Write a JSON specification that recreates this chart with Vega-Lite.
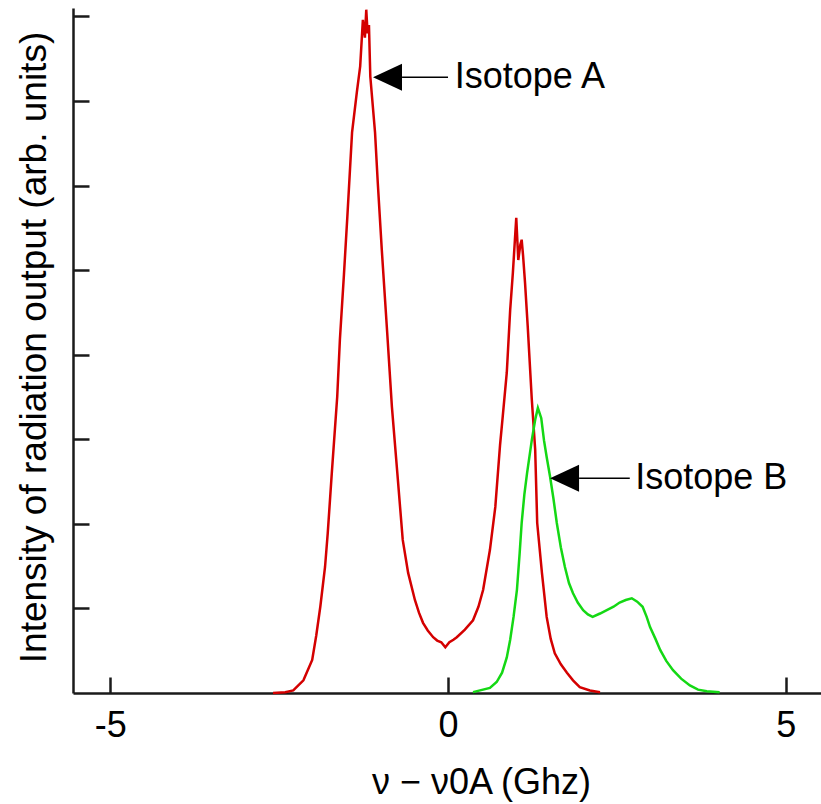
{
  "$schema": "https://vega.github.io/schema/vega-lite/v6.json",
  "width": 748,
  "height": 685,
  "autosize": {"type": "none"},
  "padding": {"top": 8, "left": 73, "right": 0, "bottom": 111},
  "background": "white",
  "config": {
    "view": {"stroke": null},
    "font": "Liberation Sans",
    "axis": {"grid": false, "domainColor": "#1a1a1a", "domainWidth": 2.5, "tickColor": "#1a1a1a", "tickWidth": 2.5, "labelColor": "black", "titleColor": "black", "labelFont": "Liberation Sans", "titleFont": "Liberation Sans", "titleFontWeight": "normal"}
  },
  "datasets": {
    "spectra": [
      {"isotope": "A", "freq": -2.59, "intensity": 0.0},
      {"isotope": "A", "freq": -2.41, "intensity": 0.01},
      {"isotope": "A", "freq": -2.29, "intensity": 0.03},
      {"isotope": "A", "freq": -2.14, "intensity": 0.15},
      {"isotope": "A", "freq": -2.01, "intensity": 0.39},
      {"isotope": "A", "freq": -1.95, "intensity": 0.68},
      {"isotope": "A", "freq": -1.89, "intensity": 1.02},
      {"isotope": "A", "freq": -1.82, "intensity": 1.49},
      {"isotope": "A", "freq": -1.78, "intensity": 1.89},
      {"isotope": "A", "freq": -1.72, "intensity": 2.6},
      {"isotope": "A", "freq": -1.64, "intensity": 3.5},
      {"isotope": "A", "freq": -1.6, "intensity": 4.18},
      {"isotope": "A", "freq": -1.54, "intensity": 4.95},
      {"isotope": "A", "freq": -1.49, "intensity": 5.63},
      {"isotope": "A", "freq": -1.42, "intensity": 6.63},
      {"isotope": "A", "freq": -1.35, "intensity": 7.1},
      {"isotope": "A", "freq": -1.3, "intensity": 7.41},
      {"isotope": "A", "freq": -1.26, "intensity": 7.96},
      {"isotope": "A", "freq": -1.23, "intensity": 7.75},
      {"isotope": "A", "freq": -1.21, "intensity": 8.08},
      {"isotope": "A", "freq": -1.19, "intensity": 7.8},
      {"isotope": "A", "freq": -1.17, "intensity": 7.9},
      {"isotope": "A", "freq": -1.15, "intensity": 7.29},
      {"isotope": "A", "freq": -1.08, "intensity": 6.63},
      {"isotope": "A", "freq": -1.04, "intensity": 6.04},
      {"isotope": "A", "freq": -0.98, "intensity": 5.24},
      {"isotope": "A", "freq": -0.9, "intensity": 4.26},
      {"isotope": "A", "freq": -0.83, "intensity": 3.38},
      {"isotope": "A", "freq": -0.75, "intensity": 2.6},
      {"isotope": "A", "freq": -0.67, "intensity": 1.81},
      {"isotope": "A", "freq": -0.59, "intensity": 1.42},
      {"isotope": "A", "freq": -0.49, "intensity": 1.1},
      {"isotope": "A", "freq": -0.43, "intensity": 0.95},
      {"isotope": "A", "freq": -0.37, "intensity": 0.83},
      {"isotope": "A", "freq": -0.3, "intensity": 0.74},
      {"isotope": "A", "freq": -0.22, "intensity": 0.66},
      {"isotope": "A", "freq": -0.16, "intensity": 0.62},
      {"isotope": "A", "freq": -0.1, "intensity": 0.6},
      {"isotope": "A", "freq": -0.04, "intensity": 0.54},
      {"isotope": "A", "freq": 0.02, "intensity": 0.6},
      {"isotope": "A", "freq": 0.08, "intensity": 0.63},
      {"isotope": "A", "freq": 0.13, "intensity": 0.66},
      {"isotope": "A", "freq": 0.25, "intensity": 0.75},
      {"isotope": "A", "freq": 0.37, "intensity": 0.86},
      {"isotope": "A", "freq": 0.45, "intensity": 1.02},
      {"isotope": "A", "freq": 0.52, "intensity": 1.22},
      {"isotope": "A", "freq": 0.62, "intensity": 1.69},
      {"isotope": "A", "freq": 0.7, "intensity": 2.2},
      {"isotope": "A", "freq": 0.77, "intensity": 2.93},
      {"isotope": "A", "freq": 0.81, "intensity": 3.27},
      {"isotope": "A", "freq": 0.87, "intensity": 3.79},
      {"isotope": "A", "freq": 0.92, "intensity": 4.53},
      {"isotope": "A", "freq": 0.96, "intensity": 4.97},
      {"isotope": "A", "freq": 0.99, "intensity": 5.36},
      {"isotope": "A", "freq": 1.01, "intensity": 5.62},
      {"isotope": "A", "freq": 1.04, "intensity": 5.12},
      {"isotope": "A", "freq": 1.07, "intensity": 5.3},
      {"isotope": "A", "freq": 1.09, "intensity": 5.36},
      {"isotope": "A", "freq": 1.11, "intensity": 5.18},
      {"isotope": "A", "freq": 1.14, "intensity": 4.85},
      {"isotope": "A", "freq": 1.18, "intensity": 4.33},
      {"isotope": "A", "freq": 1.24, "intensity": 3.47},
      {"isotope": "A", "freq": 1.29, "intensity": 2.88},
      {"isotope": "A", "freq": 1.32, "intensity": 2.01},
      {"isotope": "A", "freq": 1.39, "intensity": 1.42},
      {"isotope": "A", "freq": 1.46, "intensity": 0.9},
      {"isotope": "A", "freq": 1.52, "intensity": 0.64},
      {"isotope": "A", "freq": 1.58, "intensity": 0.47},
      {"isotope": "A", "freq": 1.67, "intensity": 0.34},
      {"isotope": "A", "freq": 1.76, "intensity": 0.24},
      {"isotope": "A", "freq": 1.85, "intensity": 0.15},
      {"isotope": "A", "freq": 1.95, "intensity": 0.07},
      {"isotope": "A", "freq": 2.1, "intensity": 0.03},
      {"isotope": "A", "freq": 2.25, "intensity": 0.01},
      {"isotope": "B", "freq": 0.37, "intensity": 0.01},
      {"isotope": "B", "freq": 0.62, "intensity": 0.06},
      {"isotope": "B", "freq": 0.72, "intensity": 0.13},
      {"isotope": "B", "freq": 0.8, "intensity": 0.24},
      {"isotope": "B", "freq": 0.87, "intensity": 0.42},
      {"isotope": "B", "freq": 0.92, "intensity": 0.63},
      {"isotope": "B", "freq": 0.97, "intensity": 0.9},
      {"isotope": "B", "freq": 1.02, "intensity": 1.22},
      {"isotope": "B", "freq": 1.06, "intensity": 1.65},
      {"isotope": "B", "freq": 1.09, "intensity": 2.01},
      {"isotope": "B", "freq": 1.13, "intensity": 2.35},
      {"isotope": "B", "freq": 1.17, "intensity": 2.6},
      {"isotope": "B", "freq": 1.24, "intensity": 2.99},
      {"isotope": "B", "freq": 1.29, "intensity": 3.23},
      {"isotope": "B", "freq": 1.33, "intensity": 3.37},
      {"isotope": "B", "freq": 1.38, "intensity": 3.25},
      {"isotope": "B", "freq": 1.42, "intensity": 2.99},
      {"isotope": "B", "freq": 1.46, "intensity": 2.79},
      {"isotope": "B", "freq": 1.51, "intensity": 2.56},
      {"isotope": "B", "freq": 1.56, "intensity": 2.3},
      {"isotope": "B", "freq": 1.61, "intensity": 2.01},
      {"isotope": "B", "freq": 1.67, "intensity": 1.72},
      {"isotope": "B", "freq": 1.73, "intensity": 1.49},
      {"isotope": "B", "freq": 1.79, "intensity": 1.3},
      {"isotope": "B", "freq": 1.85, "intensity": 1.18},
      {"isotope": "B", "freq": 1.92, "intensity": 1.07},
      {"isotope": "B", "freq": 2.0, "intensity": 0.98},
      {"isotope": "B", "freq": 2.07, "intensity": 0.93},
      {"isotope": "B", "freq": 2.14, "intensity": 0.9},
      {"isotope": "B", "freq": 2.25, "intensity": 0.94},
      {"isotope": "B", "freq": 2.35, "intensity": 0.98},
      {"isotope": "B", "freq": 2.45, "intensity": 1.02},
      {"isotope": "B", "freq": 2.54, "intensity": 1.07},
      {"isotope": "B", "freq": 2.63, "intensity": 1.1},
      {"isotope": "B", "freq": 2.72, "intensity": 1.12},
      {"isotope": "B", "freq": 2.8, "intensity": 1.08},
      {"isotope": "B", "freq": 2.88, "intensity": 1.02},
      {"isotope": "B", "freq": 2.94, "intensity": 0.9},
      {"isotope": "B", "freq": 2.99, "intensity": 0.78},
      {"isotope": "B", "freq": 3.07, "intensity": 0.64},
      {"isotope": "B", "freq": 3.14, "intensity": 0.51},
      {"isotope": "B", "freq": 3.23, "intensity": 0.38},
      {"isotope": "B", "freq": 3.33, "intensity": 0.27},
      {"isotope": "B", "freq": 3.45, "intensity": 0.17},
      {"isotope": "B", "freq": 3.58, "intensity": 0.09},
      {"isotope": "B", "freq": 3.7, "intensity": 0.04},
      {"isotope": "B", "freq": 3.83, "intensity": 0.02},
      {"isotope": "B", "freq": 4.02, "intensity": 0.01}
    ],
    "labels": [
      {"label": "Isotope A", "tip": -1.11, "level": 7.28, "base": -0.68, "lineEnd": 0.0, "textStart": 0.1},
      {"label": "Isotope B", "tip": 1.51, "level": 2.54, "base": 1.94, "lineEnd": 2.69, "textStart": 2.77}
    ]
  },
  "layer": [
    {
      "data": {"name": "spectra"},
      "mark": {"type": "line", "strokeWidth": 2.5, "clip": false},
      "encoding": {
        "x": {
          "field": "freq", "type": "quantitative",
          "scale": {"domain": [-5.55, 5.52], "nice": false, "zero": false},
          "axis": {
            "values": [-5, 0, 5], "tickSize": -16, "labelFontSize": 36, "labelPadding": 31,
            "labelExpr": "'' + datum.value",
            "title": "ν − ν0A (Ghz)", "titleFontSize": 36, "titleX": 408, "titleY": 100,
            "titleBaseline": "alphabetic", "titleAnchor": null
          }
        },
        "y": {
          "field": "intensity", "type": "quantitative",
          "scale": {"domain": [0, 8.1], "nice": false},
          "axis": {
            "values": [1, 2, 3, 4, 5, 6, 7, 8], "tickSize": -16, "labels": false,
            "title": "Intensity of radiation output (arb. units)", "titleFontSize": 37,
            "titleX": -28, "titleY": 339, "titleAngle": -90, "titleBaseline": "alphabetic", "titleAlign": "center"
          }
        },
        "color": {
          "field": "isotope", "type": "nominal",
          "scale": {"domain": ["A", "B"], "range": ["#d40000", "#14d814"]},
          "legend": null
        }
      }
    },
    {
      "data": {"name": "labels"},
      "mark": {"type": "rule", "strokeWidth": 1.5, "color": "black"},
      "encoding": {
        "x": {"field": "base", "type": "quantitative"},
        "x2": {"field": "lineEnd"},
        "y": {"field": "level", "type": "quantitative"}
      }
    },
    {
      "data": {"name": "labels"},
      "mark": {"type": "point", "shape": "M0,0L2,-0.93L2,0.93Z", "size": 841, "filled": true, "color": "black", "opacity": 1, "strokeWidth": 0},
      "encoding": {
        "x": {"field": "tip", "type": "quantitative"},
        "y": {"field": "level", "type": "quantitative"}
      }
    },
    {
      "data": {"name": "labels"},
      "mark": {"type": "text", "align": "left", "baseline": "middle", "fontSize": 36, "font": "Liberation Sans", "color": "black"},
      "encoding": {
        "x": {"field": "textStart", "type": "quantitative"},
        "y": {"field": "level", "type": "quantitative"},
        "text": {"field": "label"}
      }
    }
  ]
}
